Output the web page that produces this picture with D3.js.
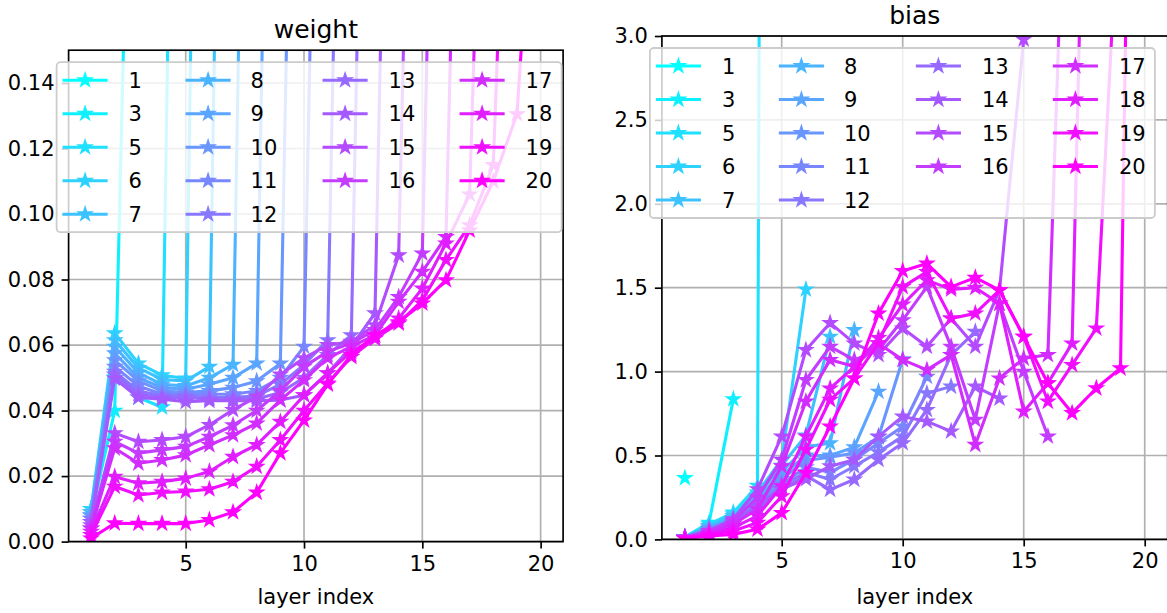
<!DOCTYPE html>
<html><head><meta charset="utf-8">
<script src="https://cdn.jsdelivr.net/npm/d3@7"></script>
<style>
body{margin:0;background:#fff;}
svg{display:block;font-family:"DejaVu Sans",sans-serif;}
</style>
</head><body>
<svg id="chart" width="1167" height="613"></svg>
<script>
// ---------------- data ----------------
const seriesLabels = [1, 3, 5, 6, 7, 8, 9, 10, 11, 12, 13, 14, 15, 16, 17, 18, 19, 20];
const layerTicks = [5, 10, 15, 20];
const weightTicks = [0, 0.02, 0.04, 0.06, 0.08, 0.10, 0.12, 0.14];
const biasTicks = [0, 0.5, 1.0, 1.5, 2.0, 2.5, 3.0];
const panelTitles = ["weight", "bias"];
const xLabel = "layer index";

// values per series, layer index 1..n
const weightValues = [
  [0.60],
  [0.008, 0.040, 0.34],
  [0.010, 0.050, 0.044, 0.041, 0.50],
  [0.010, 0.0636, 0.0544, 0.0508, 0.0498, 0.53],
  [0.009, 0.0615, 0.053, 0.0495, 0.049, 0.0534, 0.51],
  [0.009, 0.0595, 0.0515, 0.048, 0.0475, 0.050, 0.054, 0.47],
  [0.008, 0.0575, 0.050, 0.047, 0.0465, 0.048, 0.050, 0.0544, 0.47],
  [0.008, 0.0554, 0.049, 0.046, 0.0455, 0.046, 0.047, 0.049, 0.0544, 0.43],
  [0.007, 0.0534, 0.0475, 0.045, 0.045, 0.045, 0.045, 0.046, 0.050, 0.0595, 0.42],
  [0.007, 0.0519, 0.046, 0.0445, 0.0445, 0.044, 0.044, 0.0445, 0.048, 0.054, 0.0615, 0.43],
  [0.006, 0.051, 0.045, 0.044, 0.044, 0.0435, 0.0435, 0.0435, 0.0455, 0.050, 0.057, 0.063, 0.43],
  [0.006, 0.0498, 0.044, 0.0435, 0.0427, 0.043, 0.043, 0.043, 0.0432, 0.0447, 0.0514, 0.0595, 0.0697, 0.42],
  [0.005, 0.0331, 0.0305, 0.031, 0.032, 0.0356, 0.0402, 0.0442, 0.0510, 0.0560, 0.0600, 0.0610, 0.0661, 0.0874, 0.40],
  [0.004, 0.0305, 0.027, 0.028, 0.029, 0.032, 0.0355, 0.040, 0.0460, 0.0534, 0.0580, 0.0605, 0.0646, 0.0747, 0.088, 0.40],
  [0.004, 0.0285, 0.0239, 0.0249, 0.0264, 0.0295, 0.0325, 0.0361, 0.0432, 0.0493, 0.0560, 0.0595, 0.0630, 0.0732, 0.0824, 0.093, 0.39],
  [0.003, 0.0198, 0.0178, 0.0183, 0.0193, 0.0214, 0.0259, 0.0295, 0.0366, 0.0447, 0.0514, 0.0580, 0.0620, 0.0681, 0.0773, 0.091, 0.106, 0.34],
  [0.002, 0.0168, 0.0142, 0.015, 0.0153, 0.016, 0.0183, 0.0229, 0.031, 0.0400, 0.0483, 0.0564, 0.0620, 0.0666, 0.0737, 0.086, 0.0966, 0.115, 0.31],
  [0.001, 0.0056, 0.0055, 0.0055, 0.0055, 0.0066, 0.009, 0.015, 0.027, 0.037, 0.048, 0.057, 0.063, 0.067, 0.0727, 0.0798, 0.095, 0.110, 0.1305, 0.24]
];

const biasValues = [
  [0.366],
  [0.012, 0.10, 0.836],
  [0.015, 0.09, 0.16, 0.32, 40],
  [0.015, 0.08, 0.15, 0.28, 0.475, 1.49],
  [0.014, 0.08, 0.14, 0.26, 0.44, 0.62, 1.208],
  [0.013, 0.07, 0.13, 0.24, 0.40, 0.55, 0.574, 1.248],
  [0.013, 0.07, 0.12, 0.22, 0.38, 0.50, 0.50, 0.55, 0.881],
  [0.012, 0.06, 0.12, 0.21, 0.36, 0.47, 0.49, 0.515, 0.61, 1.074],
  [0.012, 0.06, 0.11, 0.20, 0.33, 0.43, 0.40, 0.475, 0.574, 0.673, 0.97],
  [0.011, 0.05, 0.10, 0.19, 0.32, 0.40, 0.357, 0.436, 0.52, 0.614, 0.871, 0.911],
  [0.011, 0.05, 0.10, 0.18, 0.30, 0.38, 0.297, 0.357, 0.475, 0.574, 0.772, 1.10, 1.238],
  [0.010, 0.05, 0.10, 0.20, 0.30, 0.36, 0.436, 0.475, 0.614, 0.733, 0.703, 0.644, 0.911, 0.84],
  [0.010, 0.05, 0.12, 0.30, 0.614, 1.129, 1.29, 1.168, 1.10, 1.258, 1.149, 1.317, 1.149, 1.485, 2.98],
  [0.010, 0.05, 0.11, 0.25, 0.475, 0.95, 1.149, 1.07, 1.129, 1.307, 1.505, 1.149, 0.713, 1.406, 1.00, 0.614],
  [0.008, 0.04, 0.09, 0.18, 0.436, 0.822, 1.07, 1.03, 1.168, 1.07, 1.010, 1.10, 0.564, 0.96, 1.079, 1.10, 5.35],
  [0.007, 0.03, 0.07, 0.14, 0.317, 0.614, 0.90, 1.03, 1.20, 1.40, 1.545, 1.49, 1.50, 1.406, 0.762, 0.931, 1.168, 7.3],
  [0.006, 0.03, 0.05, 0.10, 0.257, 0.535, 0.832, 0.96, 1.17, 1.505, 1.594, 1.317, 1.347, 1.485, 1.208, 0.822, 1.04, 1.258, 4.0],
  [0.005, 0.02, 0.03, 0.06, 0.158, 0.396, 0.673, 0.96, 1.347, 1.60, 1.644, 1.505, 1.56, 1.485, 1.208, 0.931, 0.753, 0.901, 1.02, 10.5]
];

// ---------------- drawing ----------------
const svg = d3.select("#chart");
const color = i => {
  const t = i / (seriesLabels.length - 1);
  return d3.rgb(Math.round(255 * t), Math.round(255 * (1 - t)), 255).toString();
};
const starR = 6.25;
const star = d3.symbol().type(d3.symbolStar).size(starR * starR / 0.8908130915292852);
const LW = 3.1, GRID = "#b0b0b0";

function drawPanel(cfg, pid) {
  const g = svg.append("g");
  const x = d3.scaleLinear().domain([0.05, 20.95]).range([cfg.left, cfg.right]);
  const y = d3.scaleLinear().domain(cfg.yDomain).range([cfg.bottom, cfg.top]);

  // grid
  g.append("g").selectAll("line").data(cfg.xTicks).enter().append("line")
    .attr("x1", d => x(d)).attr("x2", d => x(d))
    .attr("y1", cfg.top).attr("y2", cfg.bottom)
    .attr("stroke", GRID).attr("stroke-width", 1.67);
  g.append("g").selectAll("line").data(cfg.yTicks).enter().append("line")
    .attr("x1", cfg.left).attr("x2", cfg.right)
    .attr("y1", d => y(d)).attr("y2", d => y(d))
    .attr("stroke", GRID).attr("stroke-width", 1.67);

  // clip
  const cid = "clip" + pid;
  svg.append("defs").append("clipPath").attr("id", cid).append("rect")
    .attr("x", cfg.left).attr("y", cfg.top)
    .attr("width", cfg.right - cfg.left).attr("height", cfg.bottom - cfg.top);

  const dg = g.append("g").attr("clip-path", `url(#${cid})`);
  const line = d3.line().x(d => x(d[0])).y(d => y(d[1]));
  cfg.values.forEach((vals, i) => {
    const pts = vals.map((v, j) => [j + 1, v]);
    const c = color(i);
    const sg = dg.append("g");
    if (pts.length > 1) {
      sg.append("path").attr("d", line(pts)).attr("fill", "none")
        .attr("stroke", c).attr("stroke-width", LW)
        .attr("stroke-linejoin", "round").attr("stroke-linecap", "square");
    }
    sg.selectAll("path.m").data(pts).enter().append("path").attr("class", "m")
      .attr("d", star)
      .attr("transform", d => `translate(${x(d[0])},${y(d[1])})`)
      .attr("fill", c).attr("stroke", c).attr("stroke-width", 2)
      .attr("stroke-linejoin", "miter");
  });

  // axes
  const xa = g.append("g").attr("transform", `translate(0,${cfg.bottom})`)
    .call(d3.axisBottom(x).tickValues(cfg.xTicks).tickSize(7).tickPadding(7).tickFormat(d3.format("d")));
  const ya = g.append("g").attr("transform", `translate(${cfg.left},0)`)
    .call(d3.axisLeft(y).tickValues(cfg.yTicks).tickSize(7).tickPadding(7).tickFormat(cfg.fmt));
  [xa, ya].forEach(a => {
    a.select(".domain").remove();
    a.selectAll(".tick line").attr("stroke", "#000").attr("stroke-width", 1.67);
    a.selectAll(".tick text").attr("font-size", 21).attr("fill", "#000")
      .attr("font-family", "DejaVu Sans");
  });

  // frame
  g.append("rect").attr("x", cfg.left).attr("y", cfg.top)
    .attr("width", cfg.right - cfg.left).attr("height", cfg.bottom - cfg.top)
    .attr("fill", "none").attr("stroke", "#000").attr("stroke-width", 1.67);

  // title & label
  g.append("text").attr("x", (cfg.left + cfg.right) / 2).attr("y", cfg.top - 12.5)
    .attr("text-anchor", "middle").attr("font-size", 25).text(cfg.title);
  g.append("text").attr("x", (cfg.left + cfg.right) / 2).attr("y", 604)
    .attr("text-anchor", "middle").attr("font-size", 21).text(xLabel);

  // legend
  const lx = cfg.left - 12, ly = cfg.top + 12;
  const lg = g.append("g");
  lg.append("rect").attr("x", lx).attr("y", ly).attr("width", 505).attr("height", 170)
    .attr("rx", 4).attr("fill", "#fff").attr("fill-opacity", 0.8)
    .attr("stroke", "#cccccc").attr("stroke-width", 1.8);
  const colHandle = [6, 129, 266, 403], colText = [72, 194, 332, 469];
  const perCol = [5, 5, 4, 4];
  let k = 0;
  perCol.forEach((n, ci) => {
    for (let r = 0; r < n; r++, k++) {
      const yy = ly + 18 + 33.5 * r;
      const c = color(k);
      const hx = lx + colHandle[ci];
      lg.append("line").attr("x1", hx + 1.5).attr("x2", hx + 43.5)
        .attr("y1", yy).attr("y2", yy).attr("stroke", c).attr("stroke-width", LW)
        .attr("stroke-linecap", "square");
      lg.append("path").attr("d", star).attr("transform", `translate(${hx + 22.5},${yy})`)
        .attr("fill", c).attr("stroke", c).attr("stroke-width", 2);
      lg.append("text").attr("x", lx + colText[ci]).attr("y", yy).attr("dy", "0.36em")
        .attr("font-size", 21).text(seriesLabels[k]);
    }
  });
}

drawPanel({
  left: 68.6, right: 563.1, top: 50.2, bottom: 541.6,
  yDomain: [0, 0.15], xTicks: layerTicks, yTicks: weightTicks,
  fmt: d3.format(".2f"), values: weightValues, title: panelTitles[0]
}, 0);

drawPanel({
  left: 661.9, right: 1167.7, top: 36, bottom: 539.4,
  yDomain: [0, 3.0], xTicks: layerTicks, yTicks: biasTicks,
  fmt: d3.format(".1f"), values: biasValues, title: panelTitles[1]
}, 1);
</script>
</body></html>
